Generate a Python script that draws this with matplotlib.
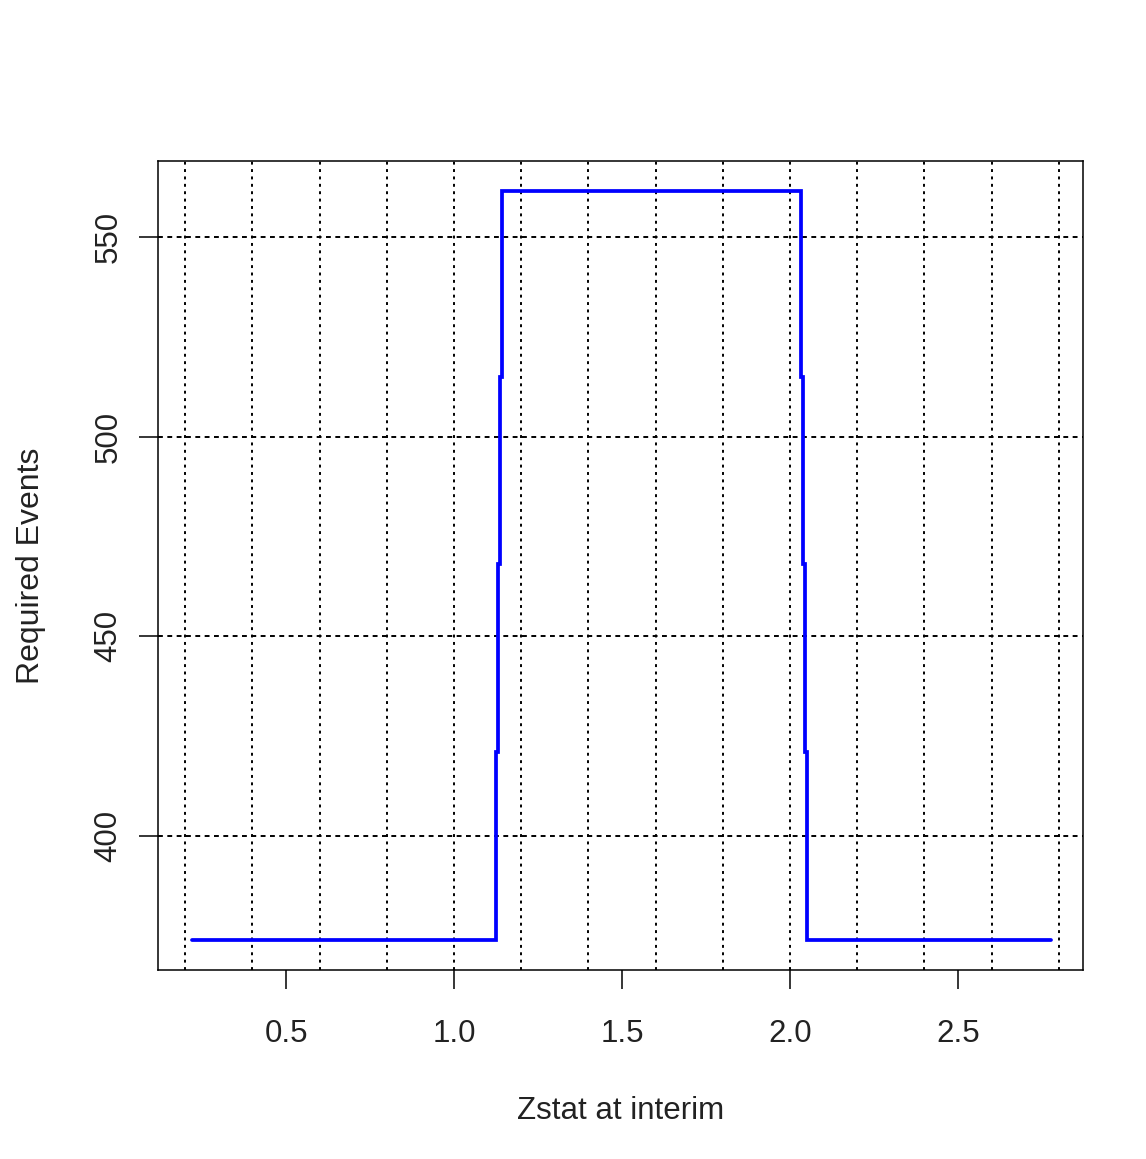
import numpy as np
import matplotlib
matplotlib.use("Agg")
import matplotlib.pyplot as plt

# step function: required events vs interim z statistic
zstat = [0.22, 1.125, 1.131, 1.137, 1.143, 2.034, 2.040, 2.046, 2.052, 2.778]
events = [374, 421, 468, 515, 561.5, 515, 468, 421, 374, 374]

x_ticks = [0.5, 1.0, 1.5, 2.0, 2.5]
y_ticks = [400, 450, 500, 550]
x_grid = np.round(np.arange(0.2, 2.81, 0.2), 1)

plt.rcParams['font.family'] = ['Liberation Sans', 'DejaVu Sans']

fig = plt.figure(figsize=(11.46, 11.59), dpi=100)
ax = fig.add_axes([0.1379, 0.1631, 0.8071, 0.6980])

# grid (black dotted, like R's grid(col="black"))
for gx in x_grid:
    ax.axvline(gx, color='black', linewidth=1.4, linestyle=(0, (1.5, 2.3)), zorder=1)
for gy in y_ticks:
    ax.axhline(gy, color='black', linewidth=1.4, linestyle=(0, (2.5, 2.3)), zorder=1)

ax.plot(zstat, events, drawstyle='steps-post', color='#0000ff',
        linewidth=2.7, solid_capstyle='round', solid_joinstyle='miter', zorder=3)

ax.set_xlim(0.119, 2.872)
ax.set_ylim(366.4, 569.0)

ax.set_xticks(x_ticks)
ax.set_xticklabels([f"{v:.1f}" for v in x_ticks])
ax.set_yticks(y_ticks)
ax.set_yticklabels([str(v) for v in y_ticks], rotation=90, va='center')

ax.tick_params(axis='both', direction='out', length=14, width=1.1,
               labelsize=22.5, colors='black', labelcolor='#222222')
ax.tick_params(axis='x', pad=21)
ax.tick_params(axis='y', pad=11)

for sp in ax.spines.values():
    sp.set_linewidth(1.1)
    sp.set_color('black')

ax.set_xlabel("Zstat at interim", fontsize=22.5, color='#222222', labelpad=34)
ax.set_ylabel("Required Events", fontsize=23, color='#222222', labelpad=34)

fig.savefig("out.png", dpi=100, facecolor='white')
